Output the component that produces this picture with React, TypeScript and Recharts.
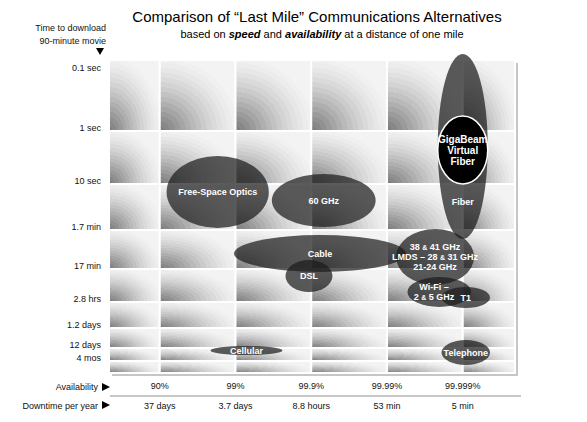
import React from "react";
import { ComposedChart, XAxis, YAxis, ReferenceArea } from "recharts";

// availability as number of nines: 90% = 1 ... 99.999% = 5
const availabilityTicks = [1, 2, 3, 4, 5];
const availabilityLabels = ["90%", "99%", "99.9%", "99.99%", "99.999%"];
const downtimeLabels = ["37 days", "3.7 days", "8.8 hours", "53 min", "5 min"];

// time to download a 90-minute movie, on the chart's compressed vertical scale
const timeLabels = ["0.1 sec", "1 sec", "10 sec", "1.7 min", "17 min", "2.8 hrs", "1.2 days", "12 days", "4 mos"];
const timeTicks = [302, 242, 189, 143, 104, 71, 45, 25, 12];

// background grid cells
const columnEdges = [0.33, 1, 2, 3, 4, 5, 5.69];
const rowEdges = [313, 242, 189, 143, 104, 71, 45, 25, 12, 0];

const techNames = ["Fiber", "GigaBeam", "Free-Space Optics", "60 GHz", "Cable", "DSL", "LMDS", "Wi-Fi", "T1", "Cellular", "Telephone"];
const techLines = [
  ["Fiber"],
  ["GigaBeam", "Virtual", "Fiber"],
  ["Free-Space Optics"],
  ["60 GHz"],
  ["Cable"],
  ["DSL"],
  ["38 & 41 GHz", "LMDS – 28 & 31 GHz", "21-24 GHz"],
  ["Wi-Fi –", "2 & 5 GHz"],
  ["T1"],
  ["Cellular"],
  ["Telephone"],
];
const techAvailability = [
  [4.67, 5.33], [4.67, 5.33], [1.09, 2.44], [2.48, 3.85], [1.98, 4.25], [2.66, 3.28],
  [4.12, 5.15], [4.27, 5.11], [4.72, 5.36], [1.67, 2.62], [4.72, 5.36],
];
const techSpeed = [
  [134, 319], [189, 257], [145, 217], [146, 199], [101, 138], [81, 113],
  [88, 144], [66, 96], [65, 86], [18, 27], [8, 33],
];
// labels that don't sit at the centre of their ellipse
const fiberLabelSpeed = 171;
const wifiLabelAvailability = 4.62;

const FONT = "'Liberation Sans', Arial, Helvetica, sans-serif";
const bands = [
  "#7f7f7f", "#888888", "#919191", "#9b9b9b", "#a5a5a5", "#afafaf", "#b9b9b9", "#c2c2c2",
  "#cbcbcb", "#d3d3d3", "#dadada", "#e1e1e1", "#e7e7e7", "#ececec", "#f0f0f0", "#f3f3f3",
];

const withAmp = (line: string) => {
  const parts = line.split("&");
  return parts.map((p, k) => (
    <React.Fragment key={k}>
      {k > 0 && <tspan fontSize={7}>&amp;</tspan>}
      {p}
    </React.Fragment>
  ));
};

const cellShape = (p: any) => (
  <rect x={p.x} y={p.y} width={p.width} height={p.height} fill="url(#cellGrad)" stroke="#fff" strokeWidth={2} />
);

const shadowShape = (p: any) => (
  <rect x={p.x + 3} y={p.y + 3} width={p.width} height={p.height} fill="#c6c6c6" />
);

const ellipseShape = (i: number) => (p: any) => {
  const solid = techNames[i] === "GigaBeam";
  return (
    <ellipse
      cx={p.x + p.width / 2}
      cy={p.y + p.height / 2}
      rx={p.width / 2}
      ry={p.height / 2}
      fill={solid ? "#000" : "#1c1c1c"}
      fillOpacity={solid ? 1 : 0.72}
      stroke={solid ? "#fff" : "none"}
      strokeWidth={1.5}
    />
  );
};

const labelShape = (i: number) => (p: any) => {
  const solid = techNames[i] === "GigaBeam";
  const lines = techLines[i];
  const lh = solid ? 11 : 10;
  let cx = p.x + p.width / 2;
  let ty = p.y + p.height / 2 - ((lines.length - 1) * lh) / 2;
  if (techNames[i] === "Fiber") {
    const [lo, hi] = techSpeed[i];
    ty = p.y + ((hi - fiberLabelSpeed) / (hi - lo)) * p.height;
  }
  if (techNames[i] === "Wi-Fi") {
    const [lo, hi] = techAvailability[i];
    cx = p.x + ((wifiLabelAvailability - lo) / (hi - lo)) * p.width;
  }
  return (
    <text fill="#fff" fontFamily={FONT} fontWeight="bold" fontSize={solid ? 10 : 9} textAnchor="middle">
      {lines.map((l, k) => (
        <tspan key={k} x={cx} y={ty + k * lh} dy="0.35em">
          {withAmp(l)}
        </tspan>
      ))}
    </text>
  );
};

const TimeTick = (props: any) => {
  const { x, y, payload } = props;
  const i = timeTicks.indexOf(payload.value);
  return (
    <text x={x} y={y} textAnchor="end" fontFamily={FONT} fontSize={9} fill="#111">
      {timeLabels[i]}
    </text>
  );
};

const AvailabilityTick = (props: any) => {
  const { x, y, payload } = props;
  const i = availabilityTicks.indexOf(payload.value);
  return (
    <g fontFamily={FONT} fontSize={9} fill="#111" textAnchor="middle">
      <text x={x} y={y + 16}>{availabilityLabels[i]}</text>
      <text x={x} y={y + 35.5}>{downtimeLabels[i]}</text>
    </g>
  );
};

export default function App() {
  const xMin = columnEdges[0];
  const xMax = columnEdges[columnEdges.length - 1];
  return (
    <div style={{ position: "absolute", left: 0, top: 0, width: 587, height: 422, background: "#fff" }}>
      <svg width={0} height={0} style={{ position: "absolute" }}>
        <defs>
          <radialGradient id="cellGrad" cx="0" cy="1" r="1.1" fx="0" fy="1">
            {bands.map((c, k) => [
              <stop key={`a${k}`} offset={k / bands.length} stopColor={c} />,
              <stop key={`b${k}`} offset={(k + 1) / bands.length} stopColor={c} />,
            ])}
          </radialGradient>
        </defs>
      </svg>
      <ComposedChart width={587} height={422} margin={{ top: 60, right: 72, bottom: 0, left: 0 }}>
        <XAxis
          type="number"
          dataKey="x"
          domain={[xMin, xMax]}
          ticks={availabilityTicks}
          tick={<AvailabilityTick />}
          axisLine={false}
          tickLine={false}
          tickSize={0}
          tickMargin={0}
          height={49}
          allowDataOverflow
        />
        <YAxis
          type="number"
          dataKey="y"
          domain={[rowEdges[rowEdges.length - 1], rowEdges[0]]}
          ticks={timeTicks}
          tick={<TimeTick />}
          axisLine={false}
          tickLine={false}
          tickSize={0}
          tickMargin={8}
          width={109}
          interval={0}
          allowDataOverflow
        />
        <ReferenceArea x1={xMin} x2={xMax} y1={rowEdges[rowEdges.length - 1]} y2={rowEdges[0]} ifOverflow="visible" shape={shadowShape} />
        {rowEdges.slice(0, -1).map((top, r) =>
          columnEdges.slice(0, -1).map((left, c) => (
            <ReferenceArea
              key={`cell-${r}-${c}`}
              x1={left}
              x2={columnEdges[c + 1]}
              y1={rowEdges[r + 1]}
              y2={top}
              ifOverflow="visible"
              shape={cellShape}
            />
          ))
        )}
        {techNames.map((name, i) => (
          <ReferenceArea
            key={`ell-${name}`}
            x1={techAvailability[i][0]}
            x2={techAvailability[i][1]}
            y1={techSpeed[i][0]}
            y2={techSpeed[i][1]}
            ifOverflow="visible"
            shape={ellipseShape(i)}
          />
        ))}
        {techNames.map((name, i) => (
          <ReferenceArea
            key={`lab-${name}`}
            x1={techAvailability[i][0]}
            x2={techAvailability[i][1]}
            y1={techSpeed[i][0]}
            y2={techSpeed[i][1]}
            ifOverflow="visible"
            shape={labelShape(i)}
          />
        ))}
      </ComposedChart>
      <svg width={587} height={422} style={{ position: "absolute", left: 0, top: 0, pointerEvents: "none" }} fontFamily={FONT}>
        <text x={317} y={22} textAnchor="middle" fontSize={15} fill="#000">
          Comparison of “Last Mile” Communications Alternatives
        </text>
        <text x={322} y={38} textAnchor="middle" fontSize={11} fill="#000">
          based on <tspan fontWeight="bold" fontStyle="italic">speed</tspan> and{" "}
          <tspan fontWeight="bold" fontStyle="italic">availability</tspan> at a distance of one mile
        </text>
        <text x={106} y={31} textAnchor="end" fontSize={9} fill="#111">Time to download</text>
        <text x={106} y={44} textAnchor="end" fontSize={9} fill="#111">90-minute movie</text>
        <polygon points="96,48 104,48 100,55" fill="#000" />
        <text x={98} y={390} textAnchor="end" fontSize={9} fill="#111">Availability</text>
        <polygon points="102,383 102,391 110,387" fill="#000" />
        <line x1={110} x2={521} y1={396} y2={396} stroke="#b4b4b4" strokeWidth={1.5} />
        <text x={98} y={408.5} textAnchor="end" fontSize={9} fill="#111">Downtime per year</text>
        <polygon points="102,401 102,409 110,405" fill="#000" />
      </svg>
    </div>
  );
}
